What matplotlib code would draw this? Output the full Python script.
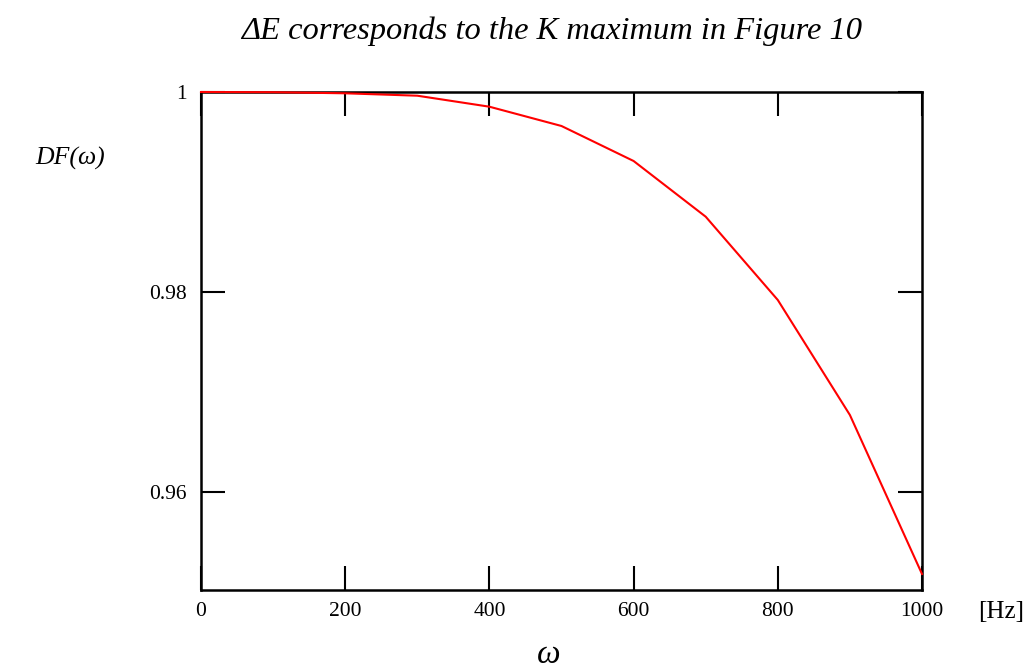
import numpy as np
import matplotlib.pyplot as plt

plt.rcParams['font.family'] = ['Liberation Serif', 'DejaVu Serif']

# frequency [Hz] and damping factor DF(omega)
omega = [0, 100, 200, 300, 400, 500, 600, 700, 800, 900, 1000]
df = [1.0, 0.99998, 0.99987, 0.99963, 0.99853, 0.9966, 0.9931,
      0.98753, 0.9792, 0.9677, 0.9518]

x_ticks = [0, 200, 400, 600, 800, 1000]
x_labels = ["0", "200", "400", "600", "800", "1000"]
y_ticks = [0.96, 0.98, 1.0]
y_labels = ["0.96", "0.98", "1"]

fig = plt.figure(figsize=(10.28, 6.7), dpi=100)
ax = fig.add_axes([201 / 1028, 1 - 590 / 670, 721 / 1028, 498 / 670])

ax.plot(omega, df, color="red", linewidth=1.5, zorder=3, clip_on=False)

ax.set_xlim(0, 1000)
ax.set_ylim(0.9502, 1.0)

ax.set_xticks(x_ticks)
ax.set_xticklabels(x_labels)
ax.set_yticks(y_ticks)
ax.set_yticklabels(y_labels)

ax.tick_params(axis="both", direction="in", length=17, width=1.5,
               labelsize=15.5, top=True, right=True, color="black")
ax.tick_params(axis="x", pad=9)
ax.tick_params(axis="y", pad=10)

for spine in ax.spines.values():
    spine.set_linewidth(1.8)
    spine.set_color("black")

fig.text(0.537, 1 - 39 / 670, "\u0394E corresponds to the K maximum in Figure 10",
         ha="center", va="baseline", fontsize=23.4, style="italic")
fig.text(35 / 1028, 1 - 158 / 670, "DF(\u03c9)", ha="left", va="center",
         fontsize=18.5, style="italic")
fig.text(549 / 1028, 1 - 655 / 670, "\u03c9", ha="center", va="center",
         fontsize=24, style="italic")
fig.text(978 / 1028, 1 - 612 / 670, "[Hz]", ha="left", va="center", fontsize=18)

fig.savefig("out.png", dpi=100)
